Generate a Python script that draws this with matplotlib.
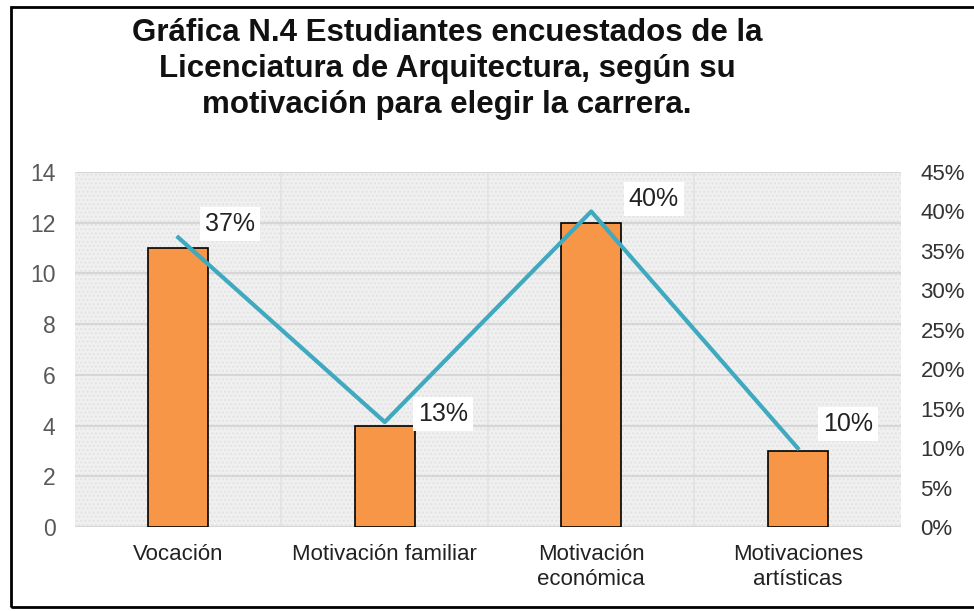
import matplotlib
matplotlib.use("Agg")
import matplotlib.pyplot as plt
from matplotlib.patches import Rectangle

categories = ["Vocación", "Motivación familiar", "Motivación\neconómica", "Motivaciones\nartísticas"]
counts = [11, 4, 12, 3]
pct = [36.7, 13.3, 40.0, 10.0]
pct_labels = ["37%", "13%", "40%", "10%"]
left_ticks = [0, 2, 4, 6, 8, 10, 12, 14]
right_ticks = [0, 5, 10, 15, 20, 25, 30, 35, 40, 45]

title = ("Gráfica N.4 Estudiantes encuestados de la\n"
         "Licenciatura de Arquitectura, según su\n"
         "motivación para elegir la carrera.")

plt.rcParams["font.family"] = ["Liberation Sans", "DejaVu Sans"]

fig = plt.figure(figsize=(9.74, 6.11), dpi=100)
ax = fig.add_axes([0.077, 0.1375, 0.848, 0.581])
ax2 = ax.twinx()

x = list(range(len(categories)))
ax.set_facecolor("#f0f0f0")
ax.patch.set_hatch("....")
ax.patch.set_edgecolor("#e3e3e3")
ax.patch.set_linewidth(0)
ax.bar(x, counts, width=0.29, color="#f79646", edgecolor="black", linewidth=1.2, zorder=3)
ax.set_ylim(0, 14)
ax.set_xlim(-0.5, len(categories) - 0.5)
ax.set_yticks(left_ticks)
ax.grid(axis="y", color="#d6d6d6", linewidth=1.6, zorder=0)
for b in [0.5, 1.5, 2.5]:
    ax.axvline(b, color="#e2e2e2", linewidth=1.2, zorder=0)
ax.set_xticks(x)
ax.set_xticklabels(categories, fontsize=16, color="#222222", linespacing=1.3)
ax.tick_params(axis="y", labelsize=16.5, labelcolor="#595959", length=0, pad=14)
ax.tick_params(axis="x", length=0, pad=12)

ax2.plot(x, pct, color="#3fa9c0", linewidth=3, zorder=4)
ax2.set_ylim(0, 45)
ax2.set_yticks(right_ticks)
ax2.set_yticklabels([f"{t}%" for t in right_ticks])
ax2.tick_params(axis="y", labelsize=16, labelcolor="#333333", length=0, pad=14)

offsets = [(37, 10), (42, 6), (45, 9), (36, 17)]
for xi, yi, lab, off in zip(x, pct, pct_labels, offsets):
    ax2.annotate(lab, (xi, yi), xytext=off, textcoords="offset points",
                 ha="center", va="center", fontsize=18, color="#222222",
                 bbox=dict(boxstyle="square,pad=0.2", fc="white", ec="none"), zorder=5)

for a in (ax, ax2):
    for s in a.spines.values():
        s.set_visible(False)

fig.text(0.459, 0.887, title, ha="center", va="center", fontsize=22.5,
         fontweight="bold", linespacing=1.28, color="#111111")

fig.patches.append(Rectangle((0.011, 0.006), 1.2, 0.982, transform=fig.transFigure,
                             fill=False, edgecolor="black", linewidth=2))

fig.savefig("out.png", dpi=100)
